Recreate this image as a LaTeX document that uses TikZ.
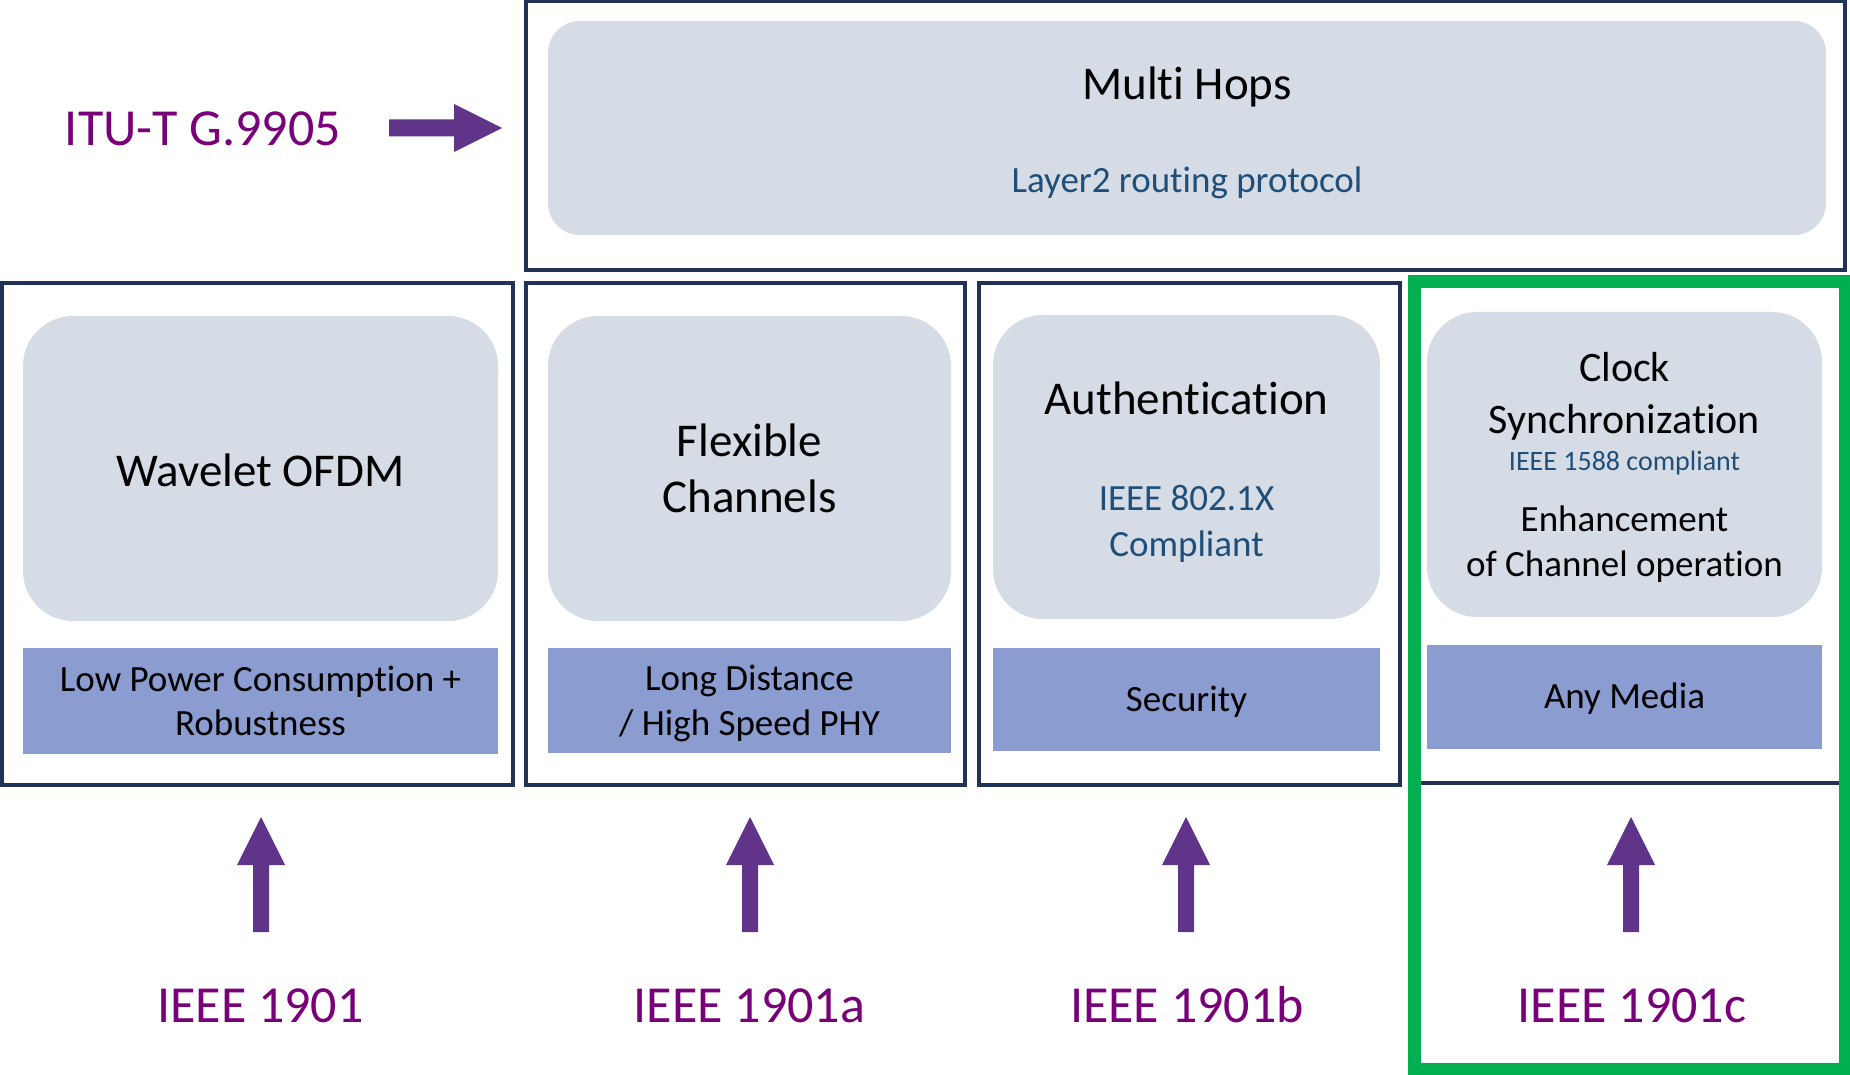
\documentclass[tikz,border=0pt]{standalone}
\usepackage{fontspec}
\setmainfont{Carlito}[Ligatures=NoCommon,Contextuals=NoAlternate,RawFeature={-liga;-clig;-calt;-dlig}]
\definecolor{navy}{HTML}{213256}
\definecolor{lightf}{HTML}{D6DCE5}
\definecolor{bluef}{HTML}{8A9CD0}
\definecolor{greenb}{HTML}{00B050}
\definecolor{arrowc}{HTML}{5F3489}
\definecolor{purpt}{HTML}{780078}
\definecolor{bluet}{HTML}{1F4E79}
\newcommand\fs[1]{\fontsize{#1}{#1}\selectfont}
\begin{document}
\begin{tikzpicture}[x=1pt,y=-1pt,
  frame/.style={draw=navy,line width=4pt,inner sep=0pt,outer sep=0pt},
  roundbox/.style={fill=lightf,rounded corners=50pt,inner sep=0pt,outer sep=0pt},
  featbox/.style={fill=bluef,inner sep=0pt,outer sep=0pt},
  txt/.style={anchor=base,inner sep=0pt,text=black},
  btxt/.style={anchor=base,inner sep=0pt,text=bluet},
  ptxt/.style={anchor=base,inner sep=0pt,text=purpt,font=\fs{52}}]
\useasboundingbox (0,0) rectangle (1850,1075);
\fill[white] (0,0) rectangle (1850,1075);
% frames
\node[frame,minimum width=1319.5pt,minimum height=268.5pt] (top) at (1185.25,135.75) {};
\node[frame,minimum width=511.5pt,minimum height=502pt] (b1) at (257.25,534) {};
\node[frame,minimum width=439pt,minimum height=502pt] (b2) at (745,534) {};
\node[frame,minimum width=421pt,minimum height=502pt] (b3) at (1189,534) {};
\node[frame,minimum width=432pt,minimum height=500pt] (b4) at (1628,533) {};
\node[draw=greenb,line width=12.5pt,inner sep=0pt,minimum width=430.5pt,minimum height=788pt] (green) at (1629.75,675.5) {};
% inner rounded boxes
\node[roundbox,rounded corners=32pt,minimum width=1278pt,minimum height=214pt] (r0) at (1187,128) {};
\node[roundbox,minimum width=475pt,minimum height=305pt] (r1) at (260.5,468.5) {};
\node[roundbox,minimum width=403pt,minimum height=305pt] (r2) at (749.5,468.5) {};
\node[roundbox,minimum width=387pt,minimum height=304pt] (r3) at (1186.5,467) {};
\node[roundbox,minimum width=395pt,minimum height=305pt] (r4) at (1624.5,464.5) {};
% feature bars
\node[featbox,minimum width=475pt,minimum height=106pt] (p1) at (260.5,701) {};
\node[featbox,minimum width=403pt,minimum height=105pt] (p2) at (749.5,700.5) {};
\node[featbox,minimum width=387pt,minimum height=103pt] (p3) at (1186.5,699.5) {};
\node[featbox,minimum width=395pt,minimum height=104pt] (p4) at (1624.5,697) {};
% texts in top box
\node[txt,font=\fs{47}] (t0a) at (1187,100) {Multi Hops};
\node[btxt,font=\fs{37}] (t0b) at (1187,193) {Layer2 routing protocol};
% box 1
\node[txt,font=\fs{47}] (t1) at (260.5,486) {Wavelet OFDM};
\node[txt,font=\fs{37}] (f1a) at (260.5,691) {Low Power Consumption +};
\node[txt,font=\fs{37}] (f1b) at (260.5,735) {Robustness};
% box 2
\node[txt,font=\fs{47}] (t2a) at (749.5,456.5) {Flexible};
\node[txt,font=\fs{47}] (t2b) at (749.5,512.5) {Channels};
\node[txt,font=\fs{37}] (f2a) at (749.5,690) {Long Distance};
\node[txt,font=\fs{37}] (f2b) at (749.5,735) {/ High Speed PHY};
% box 3
\node[txt,font=\fs{47}] (t3a) at (1186.5,414) {Authentication};
\node[btxt,font=\fs{37}] (t3b) at (1186.5,510) {IEEE 802.1X};
\node[btxt,font=\fs{37}] (t3c) at (1186.5,556.5) {Compliant};
\node[txt,font=\fs{37}] (f3) at (1186.5,711.5) {Security};
% box 4
\node[txt,font=\fs{42}] (t4a) at (1624.5,381.5) {Clock};
\node[txt,font=\fs{42}] (t4b) at (1624.5,433) {Synchronization};
\node[btxt,font=\fs{28}] (t4c) at (1624.5,470) {IEEE 1588 compliant};
\node[txt,font=\fs{37}] (t4d) at (1624.5,531.5) {Enhancement};
\node[txt,font=\fs{37}] (t4e) at (1624.5,576.5) {of Channel operation};
\node[txt,font=\fs{37}] (f4) at (1624.5,708) {Any Media};
% standard labels
\node[ptxt] (itu) at (203,145.5) {ITU-T G.9905};
\node[ptxt] (s1) at (260.5,1022.5) {IEEE 1901};
\node[ptxt] (s2) at (749.5,1022.5) {IEEE 1901a};
\node[ptxt] (s3) at (1187,1022.5) {IEEE 1901b};
\node[ptxt] (s4) at (1632,1022.5) {IEEE 1901c};
% block arrows
\fill[arrowc] (389,119.5) -- (454,119.5) -- (454,104) -- (502,128) -- (454,152) -- (454,136.5) -- (389,136.5) -- cycle;
\foreach \cx in {261,750,1186,1631}{
  \fill[arrowc] (\cx-8,932) -- (\cx-8,865) -- (\cx-24,865) -- (\cx,817) -- (\cx+24,865) -- (\cx+8,865) -- (\cx+8,932) -- cycle;
}
\end{tikzpicture}
\end{document}
